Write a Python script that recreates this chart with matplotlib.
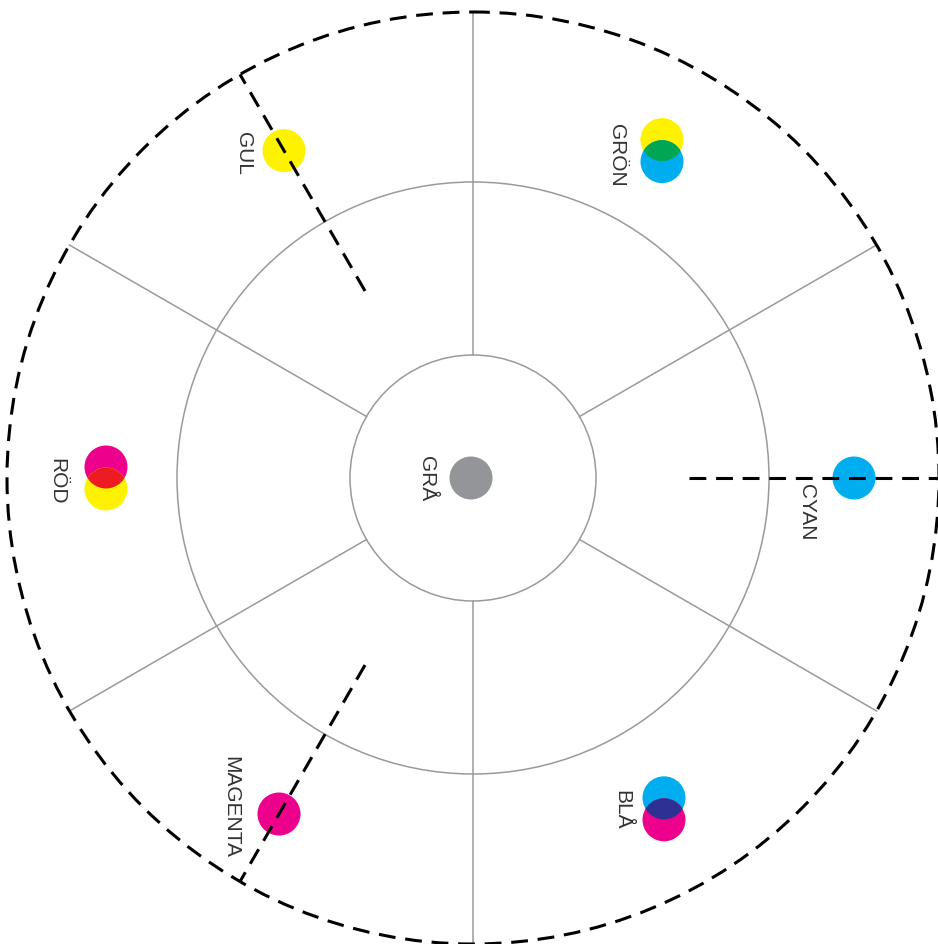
import matplotlib.pyplot as plt
from matplotlib.patches import Circle
import numpy as np

# colour wheel content
names = ["CYAN", "GRÖN", "GUL", "RÖD", "MAGENTA", "BLÅ"]
angles = [0, 60, 120, 180, 240, 300]
dot_colors = [["#00AEEF"], ["#FFF200", "#00AEEF"], ["#FFF200"],
              ["#EC008C", "#FFF200"], ["#EC008C"], ["#00AEEF", "#EC008C"]]
mix_colors = [None, "#00A651", None, "#ED1C24", None, "#2E3192"]
dot_radius = [381, 378, 378, 367, 388, 382]
center_name = "GRÅ"
center_color = "#939598"

spoke_angles = [30, 90, 150, 210, 270, 330]
dashed_angles = [0, 120, 240]
ring_radii = [123, 296]

cx, cy = 473, 479
R = 466
r_dot = 21.5
pair_off = 11

# label offsets from the dot (pixels)
label_dx = {"CYAN": -47, "GRÖN": -45, "GUL": -41, "RÖD": -49, "MAGENTA": -48, "BLÅ": -42}
label_dy = {"CYAN": 33, "GRÖN": 4, "GUL": 2, "RÖD": 2, "MAGENTA": -8, "BLÅ": 0}

fig = plt.figure(figsize=(9.38, 9.45), dpi=100)
ax = fig.add_axes([0, 0, 1, 1])
ax.set_xlim(0, 938)
ax.set_ylim(945, 0)
ax.set_aspect("equal")
ax.axis("off")

grey = "#9a9a9a"
for r in ring_radii:
    ax.add_patch(Circle((cx, cy), r, fill=False, ec=grey, lw=1.1))
for a in spoke_angles:
    t = np.radians(a)
    ax.plot([cx + ring_radii[0] * np.cos(t), cx + R * np.cos(t)],
            [cy - ring_radii[0] * np.sin(t), cy - R * np.sin(t)], color=grey, lw=1.1)

# outer dashed ring
ax.add_patch(Circle((cx, cy), R, fill=False, ec="black", lw=2.2,
                    ls=(0, (5.5, 3.2)), zorder=5))

txt_kw = dict(rotation=-90, ha="center", va="center", fontsize=15,
              color="#333333", family="Liberation Sans")

for name, a, cols, mix, rd in zip(names, angles, dot_colors, mix_colors, dot_radius):
    t = np.radians(a)
    x = cx + rd * np.cos(t)
    y = cy - rd * np.sin(t)
    if len(cols) == 1:
        ax.add_patch(Circle((x, y), r_dot, color=cols[0], lw=0, zorder=3))
    else:
        c1 = Circle((x, y - pair_off), r_dot, color=cols[0], lw=0, zorder=3)
        c2 = Circle((x, y + pair_off), r_dot, color=cols[1], lw=0, zorder=3)
        ax.add_patch(c1)
        ax.add_patch(c2)
        lens = Circle((x, y + pair_off), r_dot, color=mix, lw=0, zorder=4)
        ax.add_patch(lens)
        lens.set_clip_path(c1)
    ax.text(x + label_dx[name], y + label_dy[name], name, **txt_kw)

ax.add_patch(Circle((cx - 2, cy), r_dot, color=center_color, lw=0, zorder=3))
ax.text(cx - 47, cy, center_name, **txt_kw)

for a in dashed_angles:
    t = np.radians(a)
    ax.plot([cx + 216 * np.cos(t), cx + R * np.cos(t)],
            [cy - 216 * np.sin(t), cy - R * np.sin(t)],
            color="black", lw=2.2, ls=(0, (5.5, 3.2)), zorder=6)

plt.savefig("out.png", dpi=100)
